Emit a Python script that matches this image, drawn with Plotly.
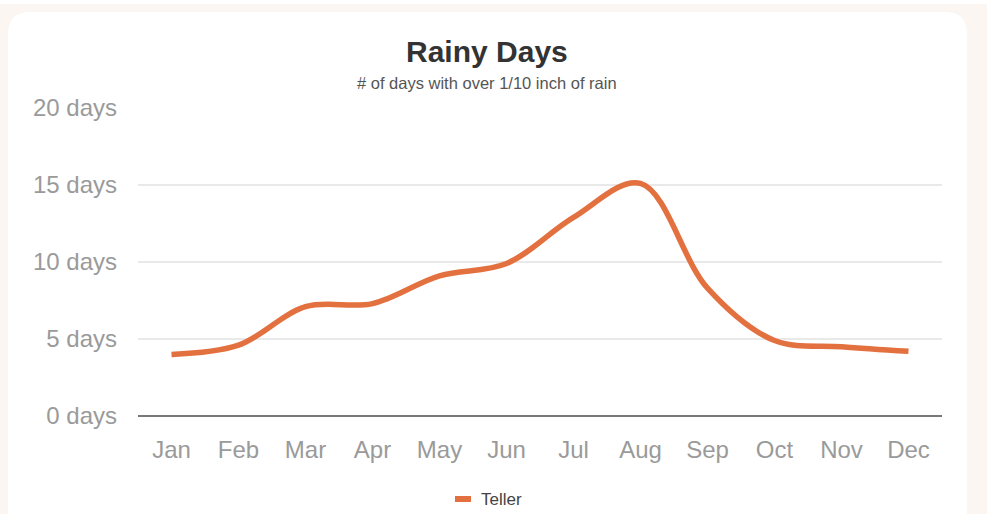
import plotly.graph_objects as go

# Rainy days per month
months = ["Jan", "Feb", "Mar", "Apr", "May", "Jun",
          "Jul", "Aug", "Sep", "Oct", "Nov", "Dec"]
teller_days = [4.0, 4.6, 7.1, 7.3, 9.1, 9.9, 12.9, 15.1, 8.3, 4.9, 4.5, 4.2]
y_ticks = [0, 5, 10, 15, 20]
y_tick_labels = [f"{v} days" for v in y_ticks]
series_name = "Teller"

W, H = 987, 514
ML, MR, MT, MB = 138, 45, 108, 98
PW, PH = W - ML - MR, H - MT - MB


def px(x):
    return (x - ML) / PW


def py(y):
    return (H - MB - y) / PH


FONT = "Liberation Sans, Arial, sans-serif"
LINE = "#e3703f"

fig = go.Figure()
fig.add_trace(go.Scatter(
    x=months, y=teller_days, name=series_name, mode="lines",
    line=dict(color=LINE, width=5.5, shape="spline", smoothing=1.0),
    showlegend=False,
))

# white card with rounded top corners on a warm page background
r = 22
x0, x1, y0, y1 = 8, 967, 12, 530
card = (f"M {px(x0)},{py(y1)} L {px(x0)},{py(y0 + r)} "
        f"Q {px(x0)},{py(y0)} {px(x0 + r)},{py(y0)} "
        f"L {px(x1 - r)},{py(y0)} Q {px(x1)},{py(y0)} {px(x1)},{py(y0 + r)} "
        f"L {px(x1)},{py(y1)} Z")
fig.add_shape(type="path", path=card, xref="paper", yref="paper",
              fillcolor="white", line=dict(width=0), layer="below")
fig.add_shape(type="rect", xref="paper", yref="paper",
              x0=px(0), x1=px(W), y0=py(4), y1=py(-2),
              fillcolor="white", line=dict(width=0), layer="below")

fig.add_annotation(text="<b>Rainy Days</b>", xref="paper", yref="paper",
                   x=px(487), y=py(52), xanchor="center", yanchor="middle",
                   showarrow=False, font=dict(family=FONT, size=30, color="#333333"))
fig.add_annotation(text="# of days with over 1/10 inch of rain", xref="paper", yref="paper",
                   x=px(487), y=py(83), xanchor="center", yanchor="middle",
                   showarrow=False, font=dict(family=FONT, size=16.5, color="#555555"))

# legend key: short swatch plus series name
fig.add_shape(type="line", xref="paper", yref="paper",
              x0=px(455), x1=px(471), y0=py(499), y1=py(499),
              line=dict(color=LINE, width=6))
fig.add_annotation(text=series_name, xref="paper", yref="paper",
                   x=px(479), y=py(499), xanchor="left", yanchor="middle",
                   showarrow=False, font=dict(family=FONT, size=17, color="#444444"))

fig.update_layout(
    width=W, height=H,
    margin=dict(l=ML, r=MR, t=MT, b=MB, autoexpand=False),
    paper_bgcolor="#fbf6f1",
    plot_bgcolor="rgba(0,0,0,0)",
    font=dict(family=FONT),
    showlegend=False,
)
fig.update_xaxes(
    type="category", range=[-0.5, 11.5], showgrid=False,
    showline=False, zeroline=False, ticks="",
    tickfont=dict(family=FONT, size=24, color="#9a9a9a"),
    ticklabelstandoff=17,
)
fig.update_yaxes(
    range=[0, 20], tickvals=y_ticks, ticktext=y_tick_labels,
    showgrid=True, gridcolor="#e9e9e9", gridwidth=1.5,
    zeroline=True, zerolinecolor="#777777", zerolinewidth=2,
    showline=False, ticks="",
    tickfont=dict(family=FONT, size=24, color="#9a9a9a"),
    ticklabelstandoff=20,
)

fig.write_html("out.html")
